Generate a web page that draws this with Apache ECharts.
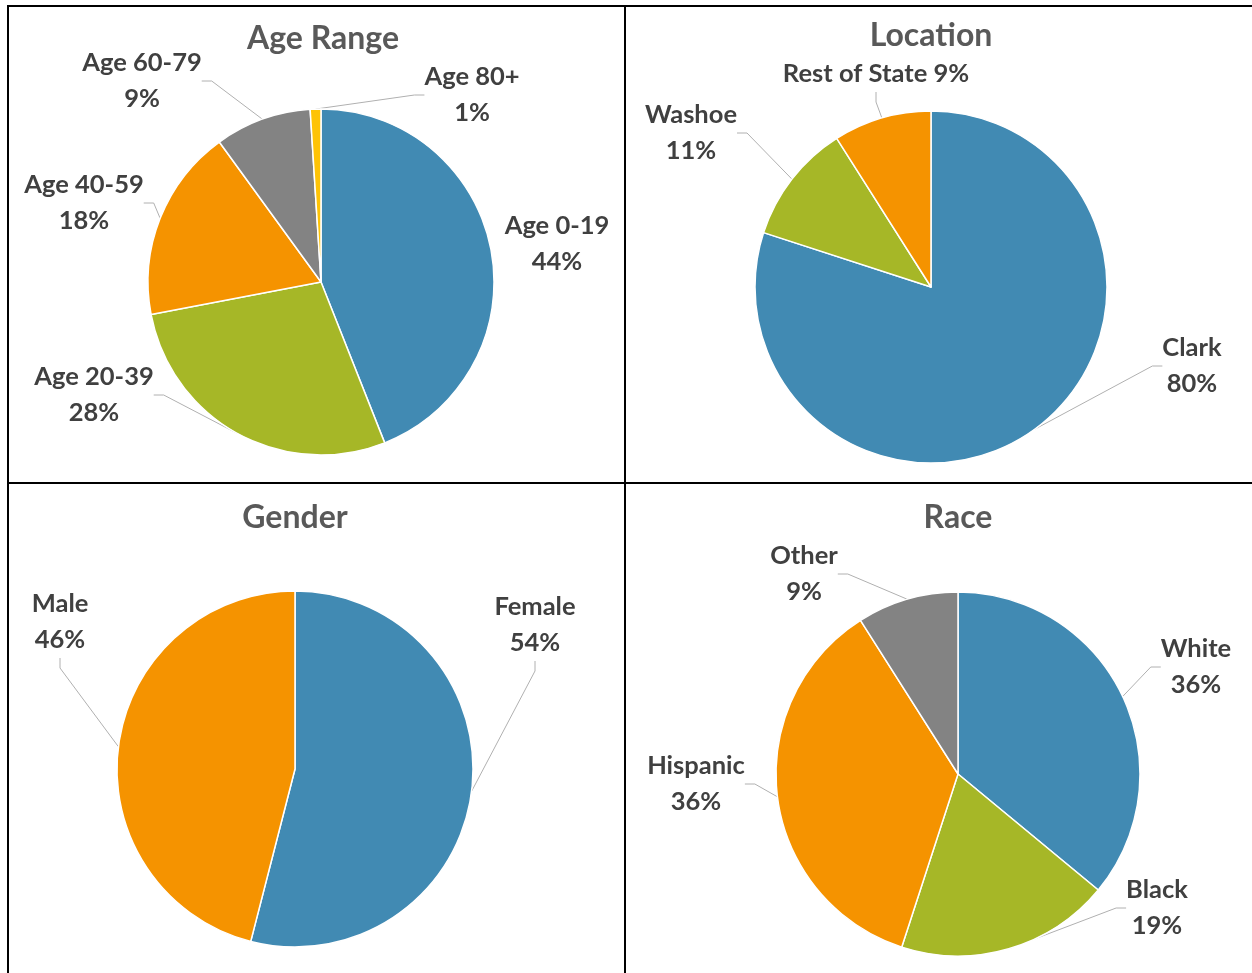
<!DOCTYPE html>
<html>
<head>
<meta charset="utf-8">
<title>Demographics</title>
<script src="https://cdn.jsdelivr.net/npm/echarts@6/dist/echarts.min.js"></script>
<style>
  html, body { margin: 0; padding: 0; background: #fff; }
  #main { width: 1252px; height: 973px; }
</style>
</head>
<body>
<div id="main"></div>
<script>
// chart data
var titles = ['Age Range', 'Location', 'Gender', 'Race']
var ageNames = ['Age 0-19', 'Age 20-39', 'Age 40-59', 'Age 60-79', 'Age 80+']
var ageValues = [44, 28, 18, 9, 1]
var locationNames = ['Clark', 'Washoe', 'Rest of State']
var locationValues = [80, 11, 9]
var genderNames = ['Female', 'Male']
var genderValues = [54, 46]
var raceNames = ['White', 'Black', 'Hispanic', 'Other']
var raceValues = [36, 19, 36, 9]

// layout / styles
var blue = '#418AB3'
var green = '#A6B727'
var orange = '#F59300'
var gray = '#838383'
var yellow = '#FEC306'
var fontFamily = 'Lato, "Open Sans", sans-serif'

var panels = [
  { names: ageNames, values: ageValues, colors: [blue, green, orange, gray, yellow], center: [321, 282], r: 173, title: [318, 18] },
  { names: locationNames, values: locationValues, colors: [blue, green, orange], center: [931, 287], r: 176, title: [926, 15] },
  { names: genderNames, values: genderValues, colors: [blue, orange], center: [295, 769], r: 178, title: [290, 497] },
  { names: raceNames, values: raceValues, colors: [blue, green, orange, gray], center: [958, 774], r: 182, title: [953, 497] }
]

// label centres (text boxes), per panel
var labelPos = [
  [[557, 244], [94, 395], [84, 203], [142, 81], [472, 95]],
  [[1192, 366], [691, 133], [876, 74]],
  [[535, 625], [60, 622]],
  [[1196, 667], [1157, 908], [696, 784], [804, 574]]
]
var noLine = { 'Age 0-19': true }
var oneLine = { 'Rest of State': true }

var charts = echarts.init(document.getElementById('main'))

var series = panels.map(function (p, si) {
  return {
    type: 'pie',
    center: p.center,
    radius: [0, p.r],
    startAngle: 90,
    clockwise: true,
    animation: false,
    silent: true,
    itemStyle: { borderColor: '#fff', borderWidth: 1.5 },
    label: {
      show: true,
      position: 'outside',
      color: '#404040',
      fontFamily: fontFamily,
      fontWeight: 'bold',
      fontSize: 25.5,
      lineHeight: 36,
      align: 'center',
      formatter: function (params) {
        if (oneLine[params.name]) return params.name + ' ' + params.value + '%'
        return params.name + '\n' + params.value + '%'
      }
    },
    labelLine: {
      show: true,
      length: 10,
      length2: 10,
      lineStyle: { color: '#B0B0B0', width: 1 }
    },
    labelLayout: function (params) {
      var pos = labelPos[si][params.dataIndex]
      return {
        x: pos[0],
        y: pos[1],
        align: 'center',
        verticalAlign: 'middle'
      }
    },
    data: p.names.map(function (n, i) {
      var d = { name: n, value: p.values[i], itemStyle: { color: p.colors[i] } }
      if (noLine[n]) d.labelLine = { show: false }
      return d
    })
  }
})

var options = {
  title: panels.map(function (p, i) {
    return {
      text: titles[i],
      left: p.title[0],
      top: p.title[1],
      textAlign: 'center',
      textStyle: {
        color: '#595959',
        fontFamily: fontFamily,
        fontWeight: 'bold',
        fontSize: 32
      }
    }
  }),
  graphic: [
    // panel frame lines
    { type: 'line', shape: { x1: 7, y1: 6, x2: 1252, y2: 6 }, style: { stroke: '#000', lineWidth: 2 } },
    { type: 'line', shape: { x1: 8, y1: 5, x2: 8, y2: 973 }, style: { stroke: '#000', lineWidth: 2 } },
    { type: 'line', shape: { x1: 625, y1: 5, x2: 625, y2: 973 }, style: { stroke: '#000', lineWidth: 2 } },
    { type: 'line', shape: { x1: 7, y1: 483, x2: 1252, y2: 483 }, style: { stroke: '#000', lineWidth: 2 } }
  ],
  series: series
}

charts.setOption(options)
window.addEventListener('resize', function () {
  charts.resize()
})
</script>
</body>
</html>
